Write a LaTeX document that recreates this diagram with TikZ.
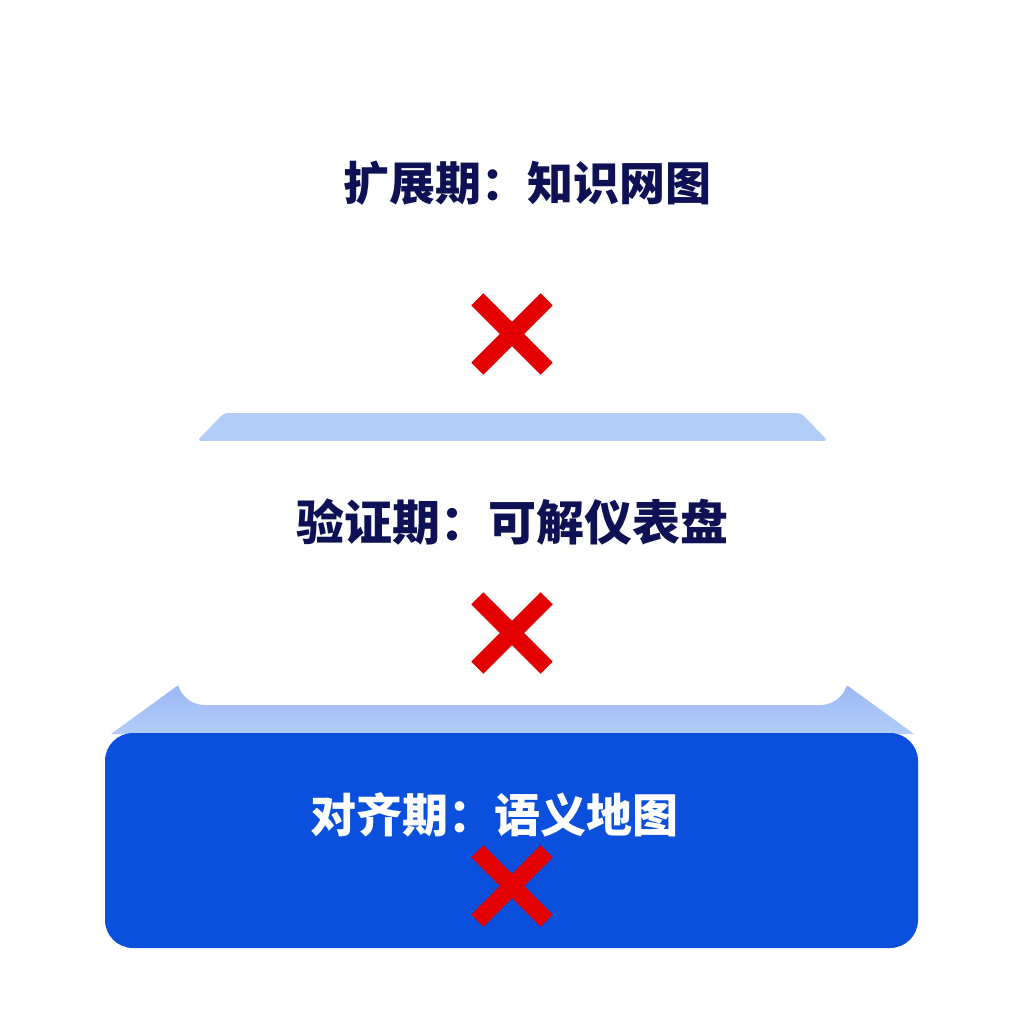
\documentclass[tikz,border=0pt]{standalone}
\usepackage{fontspec}
\newfontfamily\cjk{Noto Sans CJK SC}
\definecolor{navy}{HTML}{0E1254}
\definecolor{tierblue}{HTML}{0B50DC}
\definecolor{lightband}{HTML}{B3CDF9}
\definecolor{lightbanddark}{HTML}{9CB8F4}
\definecolor{xred}{HTML}{E30000}
\tikzset{
  tierlabel/.style={font=\cjk\bfseries\fontsize{46pt}{50pt}\selectfont, inner sep=0pt},
  xmark/.style={minimum width=69pt, minimum height=69pt, inner sep=0pt},
  xstroke/.style={draw=xred, line width=17pt, line cap=butt}
}
\begin{document}
\begin{tikzpicture}[x=1pt,y=-1pt]
\useasboundingbox (0,0) rectangle (1024,1024);
\fill[white] (0,0) rectangle (1024,1024);
% top band of middle tier
\fill[lightband, rounded corners=4pt] (197,441) -- (224,413) -- (801,413) -- (828,441) -- cycle;
% lower band (top of bottom tier)
\shade[top color=lightbanddark, bottom color=lightband] (177,686) -- (848,686) -- (914,734) -- (111,734) -- cycle;
% middle tier white box
\fill[white, rounded corners=28pt] (177,441) -- (177,705) -- (848,705) -- (848,441);
% bottom tier
\fill[tierblue, rounded corners=28pt] (105,733) rectangle (918,948);
% labels
\node[tierlabel, text=navy] (t1) at (527,183) {扩展期：知识网图};
\node[tierlabel, text=navy, font=\cjk\bfseries\fontsize{48pt}{52pt}\selectfont] (t2) at (512,522) {验证期：可解仪表盘};
\node[tierlabel, text=white] (t3) at (494,815) {对齐期：语义地图};
% red crosses
\node[xmark] (x1) at (512,334) {};
\node[xmark] (x2) at (512,633) {};
\node[xmark] (x3) at (512,886) {};
\foreach \n in {x1,x2,x3}{
  \draw[xstroke] (\n.north west) -- (\n.south east);
  \draw[xstroke] (\n.north east) -- (\n.south west);
}
\end{tikzpicture}
\end{document}
